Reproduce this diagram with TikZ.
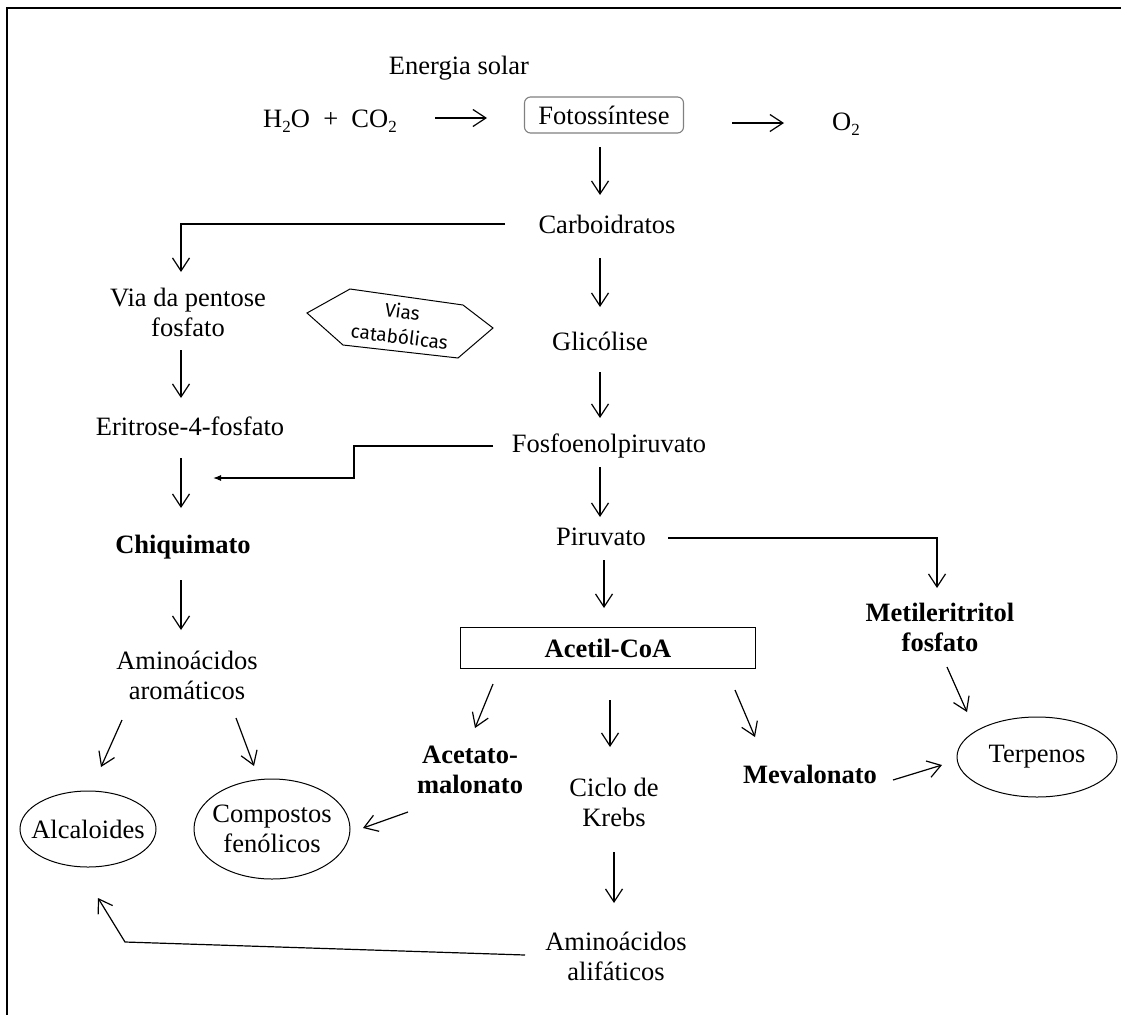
\documentclass[tikz,border=0pt]{standalone}
\usepackage{fontspec}
\setmainfont{Liberation Serif}
\newfontfamily\viasfont{Fira Sans}
\usetikzlibrary{arrows.meta,shapes.geometric,positioning,calc}
\newcommand{\idx}[1]{\lower5pt\hbox{\fontsize{17}{17}\selectfont #1}}

\begin{document}
\begin{tikzpicture}[
    x=1pt, y=-1pt,
    every node/.style={font=\fontsize{26.5}{30}\selectfont, align=center, inner sep=0pt},
    bld/.style={font=\fontsize{26.5}{30}\selectfont\bfseries},
    arr/.style={-{Straight Barb[length=13pt,width=17pt]}, line width=1.2pt},
    tri/.style={-{Latex[length=8pt,width=6pt]}, line width=1.1pt},
    oval/.style={line width=1pt}
  ]
  \useasboundingbox (0,0) rectangle (1121,1015);
  \draw[line width=1.4pt] (1121,8) -- (7,8) -- (7,1015);

  % top row
  \node (enrg) at (459,68) {Energia solar};
  \node (reag) at (330,121) {H\idx{2}O\enspace+\enspace CO\idx{2}};
  \node[draw=gray, rounded corners=6pt, line width=1.1pt, minimum width=159pt, minimum height=36pt] (foto) at (604,115) {Fotossíntese};
  \node (o2) at (846,124) {O\idx{2}};

  % central column
  \node (carb) at (607,224) {Carboidratos};
  \node (glic) at (600,341) {Glicólise};
  \node (fosf) at (609,446) {Fosfoenolpiruvato};
  \node (piru) at (601,537) {Piruvato};
  \node[draw, line width=1.8pt, minimum width=295pt, minimum height=41pt, bld] (acet) at (608,648) {Acetil-CoA};
  \node[bld] (acma) at (470,770) {Acetato-\\malonato};
  \node (krebs) at (614,802) {Ciclo de\\Krebs};
  \node[bld] (meva) at (810,774) {Mevalonato};
  \node (amal) at (616,956) {Aminoácidos\\alifáticos};

  % left column
  \node (pent) at (188,312) {Via da pentose\\fosfato};
  \node (erit) at (190,426) {Eritrose-4-fosfato};
  \node[bld] (chiq) at (183,547) {Chiquimato};
  \node (amar) at (187,675) {Aminoácidos\\aromáticos};
  \node (alca) at (88,829) {Alcaloides};
  \node (comp) at (272,829) {Compostos\\fenólicos};
  \draw[oval] (alca) ellipse [x radius=68, y radius=38];
  \draw[oval] (comp) ellipse [x radius=78, y radius=50];

  % right side
  \node[bld] (meti) at (940,627) {Metileritritol\\fosfato};
  \node (terp) at (1037,757) {Terpenos};
  \draw[oval] (terp) ellipse [x radius=80, y radius=40];

  % vias catabolicas
  \draw[line width=1pt] (307,313) -- (350,289) -- (463,305) -- (493,328) -- (458,358) -- (343,345) -- cycle;
  \node[font=\viasfont\fontsize{19}{25}\selectfont, rotate=-7] (vias) at (401,324) {Vias\\catabólicas};

  % arrows
  \draw[arr] ($(reag)+(105,-3)$) -- ($(foto)+(-117,3)$);
  \draw[arr] ($(foto)+(128,8)$) -- ($(o2)+(-62,-1)$);
  \draw[arr] ($(foto)+(-4,32)$) -- ($(carb)+(-7,-29)$);
  \draw[arr] ($(carb)+(-102,0)$) -| ($(pent)+(-7,-40)$);
  \draw[arr] ($(carb)+(-7,34)$) -- ($(glic)+(0,-34)$);
  \draw[arr] ($(glic)+(0,31)$) -- ($(fosf)+(-9,-28)$);
  \coordinate (junc) at (213,478);
  \draw[tri] ($(fosf)+(-116,0)$) -- ++(-139,0) |- (junc);
  \draw[arr] ($(fosf)+(-9,21)$) -- ($(piru)+(-1,-20)$);
  \draw[arr] ($(piru)+(67,1)$) -| ($(meti)+(-3,-39)$);
  \draw[arr] ($(piru)+(3,23)$) -- ($(acet)+(-4,-40)$);
  \draw[arr] ($(pent)+(-7,38)$) -- ($(erit)+(-9,-28)$);
  \draw[arr] ($(erit)+(-9,32)$) -- ($(chiq)+(-2,-39)$);
  \draw[arr] ($(chiq)+(-2,33)$) -- ($(amar)+(-6,-45)$);
  \draw[arr] ($(amar)+(-65,45)$) -- ($(alca)+(13,-62)$);
  \draw[arr] ($(amar)+(49,43)$) -- ($(comp)+(-18,-63)$);
  \draw[arr] ($(acet)+(-115,36)$) -- ($(acma)+(5,-42)$);
  \draw[arr] ($(acet)+(2,52)$) -- ($(krebs)+(-4,-55)$);
  \draw[arr] ($(acet)+(127,42)$) -- ($(meva)+(-55,-37)$);
  \draw[arr] ($(acma)+(-62,42)$) -- ($(comp)+(91,-1)$);
  \draw[arr] ($(meti)+(7,40)$) -- ($(terp)+(-70,-45)$);
  \draw[arr] ($(meva)+(83,6)$) -- ($(terp)+(-95,8)$);
  \draw[arr] ($(krebs)+(0,50)$) -- ($(amal)+(-2,-53)$);
  \draw[arr] ($(amal)+(-91,-1)$) -- ($(alca)+(37,113)$) -- ($(alca)+(10,69)$);
\end{tikzpicture}
\end{document}
